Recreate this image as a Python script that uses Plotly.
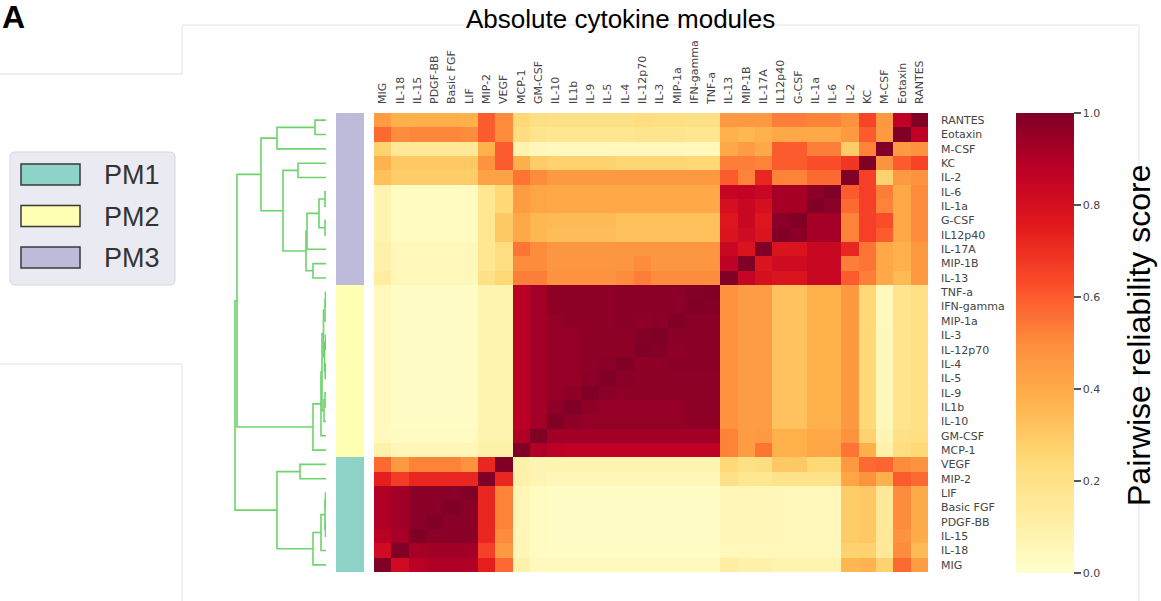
import plotly.graph_objects as go
import plotly.colors as pc

W, H = 1161, 601

# ---------------- data ----------------
cytokines = ["MIG", "IL-18", "IL-15", "PDGF-BB", "Basic FGF", "LIF", "MIP-2", "VEGF",
             "MCP-1", "GM-CSF", "IL-10", "IL1b", "IL-9", "IL-5", "IL-4", "IL-12p70",
             "IL-3", "MIP-1a", "IFN-gamma", "TNF-a", "IL-13", "MIP-1B", "IL-17A",
             "IL12p40", "G-CSF", "IL-1a", "IL-6", "IL-2", "KC", "M-CSF", "Eotaxin", "RANTES"]
row_labels = list(reversed(cytokines))

# reliability matrix: rows top->bottom (row_labels), columns left->right (cytokines)
scores = [
    [.45,.38,.39,.39,.39,.38,.60,.50, .25,.21,.20,.20,.20,.20,.20,.22,.21,.21,.20,.20, .46,.46,.46,.53,.53,.52,.52,.48,.65,.46,.87,1.0],  # RANTES
    [.57,.50,.51,.51,.51,.50,.60,.50, .22,.18,.17,.17,.17,.17,.17,.18,.18,.18,.17,.17, .38,.36,.38,.41,.41,.41,.41,.46,.60,.46,1.0,.87],  # Eotaxin
    [.27,.15,.15,.15,.15,.15,.38,.60, .08,.05,.04,.04,.04,.04,.05,.05,.05,.05,.05,.05, .41,.45,.41,.60,.60,.53,.53,.29,.52,1.0,.46,.48],  # M-CSF
    [.37,.30,.30,.30,.30,.30,.48,.60, .38,.29,.27,.27,.27,.27,.26,.26,.26,.26,.25,.25, .53,.53,.52,.60,.60,.63,.63,.68,1.0,.48,.60,.65],  # KC
    [.33,.29,.29,.29,.29,.29,.43,.43, .55,.50,.46,.46,.46,.46,.46,.46,.46,.46,.46,.46, .60,.52,.72,.52,.52,.57,.57,1.0,.66,.27,.46,.48],  # IL-2
    [.08,.03,.03,.03,.03,.03,.17,.25, .45,.42,.41,.41,.41,.41,.41,.41,.41,.41,.41,.41, .85,.86,.84,.92,.92,.98,1.0,.60,.66,.53,.41,.50],  # IL-6
    [.08,.03,.03,.03,.03,.03,.17,.25, .45,.42,.41,.41,.41,.41,.41,.41,.41,.41,.41,.41, .80,.84,.80,.92,.92,1.0,.98,.57,.66,.52,.41,.50],  # IL-1a
    [.08,.03,.03,.03,.03,.03,.17,.30, .41,.36,.35,.35,.35,.35,.33,.33,.33,.33,.33,.33, .77,.84,.77,.98,1.0,.92,.92,.52,.66,.63,.41,.50],  # G-CSF
    [.08,.03,.03,.03,.03,.03,.17,.30, .41,.36,.34,.34,.34,.34,.33,.33,.33,.33,.33,.33, .78,.82,.78,1.0,.98,.92,.92,.52,.66,.60,.41,.50],  # IL12p40
    [.10,.05,.05,.05,.05,.05,.17,.22, .55,.50,.47,.47,.47,.47,.47,.47,.47,.47,.47,.47, .84,.78,1.0,.78,.78,.84,.84,.72,.55,.41,.38,.46],  # IL-17A
    [.10,.05,.05,.05,.05,.05,.17,.22, .50,.50,.47,.47,.47,.47,.47,.50,.47,.47,.47,.47, .87,1.0,.78,.82,.82,.84,.84,.53,.55,.41,.38,.46],  # MIP-1B
    [.12,.05,.05,.05,.05,.05,.20,.25, .53,.53,.48,.48,.48,.48,.50,.53,.50,.50,.50,.50, 1.0,.85,.80,.78,.78,.84,.84,.60,.53,.41,.35,.46],  # IL-13
    [.04,.02,.02,.02,.02,.02,.08,.08, .88,.93,.97,.97,.97,.97,.98,.98,.98,.98,.99,1.0, .48,.45,.45,.32,.32,.38,.38,.46,.25,.04,.18,.20],  # TNF-a
    [.04,.02,.02,.02,.02,.02,.08,.08, .88,.93,.97,.97,.97,.97,.98,.98,.98,.98,1.0,.99, .48,.45,.45,.32,.32,.38,.38,.46,.25,.04,.18,.20],  # IFN-gamma
    [.04,.02,.02,.02,.02,.02,.08,.08, .88,.93,.96,.97,.97,.97,.98,.97,.98,1.0,.98,.98, .48,.45,.45,.32,.32,.38,.38,.46,.25,.04,.18,.20],  # MIP-1a
    [.04,.02,.02,.02,.02,.02,.08,.08, .88,.93,.96,.96,.97,.97,.97,.99,1.0,.98,.98,.98, .48,.45,.45,.32,.32,.38,.38,.46,.25,.05,.18,.20],  # IL-3
    [.04,.02,.02,.02,.02,.02,.08,.08, .88,.93,.96,.96,.97,.97,.97,1.0,.99,.97,.98,.98, .48,.45,.45,.32,.32,.38,.38,.46,.25,.05,.18,.20],  # IL-12p70
    [.04,.02,.02,.02,.02,.02,.08,.08, .88,.93,.96,.96,.97,.98,1.0,.97,.97,.98,.98,.98, .48,.45,.45,.32,.32,.38,.38,.46,.25,.05,.18,.20],  # IL-4
    [.04,.02,.02,.02,.02,.02,.08,.08, .88,.93,.96,.96,.98,1.0,.98,.97,.97,.97,.97,.97, .48,.45,.45,.32,.32,.38,.38,.46,.25,.05,.18,.20],  # IL-5
    [.04,.02,.02,.02,.02,.02,.08,.08, .88,.93,.96,.97,1.0,.98,.97,.97,.97,.97,.97,.97, .48,.45,.45,.32,.32,.38,.38,.46,.25,.05,.18,.20],  # IL-9
    [.04,.02,.02,.02,.02,.02,.08,.08, .88,.93,.97,1.0,.97,.96,.96,.96,.96,.96,.97,.97, .48,.45,.45,.32,.32,.38,.38,.46,.25,.05,.18,.20],  # IL1b
    [.04,.02,.02,.02,.02,.02,.08,.08, .88,.93,1.0,.97,.96,.96,.96,.96,.96,.96,.97,.97, .48,.45,.45,.32,.32,.38,.38,.46,.25,.05,.18,.20],  # IL-10
    [.04,.03,.03,.03,.03,.03,.08,.08, .90,1.0,.93,.93,.93,.93,.93,.93,.93,.93,.93,.93, .52,.45,.46,.38,.38,.41,.41,.48,.27,.07,.20,.22],  # GM-CSF
    [.10,.06,.06,.06,.06,.06,.10,.10, 1.0,.90,.88,.87,.87,.87,.87,.87,.87,.87,.87,.87, .52,.45,.55,.38,.38,.42,.42,.55,.38,.10,.22,.25],  # MCP-1
    [.57,.46,.52,.52,.52,.48,.72,1.0, .10,.07,.07,.07,.07,.07,.07,.07,.07,.07,.07,.07, .25,.20,.22,.30,.30,.25,.25,.46,.57,.58,.50,.48],  # VEGF
    [.74,.67,.72,.72,.72,.72,1.0,.72, .10,.07,.06,.06,.06,.06,.06,.06,.06,.06,.06,.06, .20,.17,.17,.19,.19,.19,.19,.42,.48,.38,.60,.57],  # MIP-2
    [.90,.93,.98,.98,.98,1.0,.72,.52, .06,.03,.02,.02,.02,.02,.02,.02,.02,.02,.02,.02, .06,.06,.06,.05,.05,.05,.05,.29,.30,.15,.50,.40],  # LIF
    [.90,.93,.98,.98,1.0,.98,.72,.52, .06,.03,.02,.02,.02,.02,.02,.02,.02,.02,.02,.02, .06,.06,.06,.05,.05,.05,.05,.29,.30,.15,.50,.40],  # Basic FGF
    [.90,.93,.98,1.0,.98,.98,.72,.52, .06,.03,.02,.02,.02,.02,.02,.02,.02,.02,.02,.02, .06,.06,.06,.05,.05,.05,.05,.29,.30,.15,.50,.40],  # PDGF-BB
    [.88,.92,1.0,.98,.98,.98,.72,.50, .06,.03,.02,.02,.02,.02,.02,.02,.02,.02,.02,.02, .06,.06,.06,.05,.05,.05,.05,.29,.30,.15,.48,.40],  # IL-15
    [.82,1.0,.92,.93,.93,.93,.66,.46, .06,.03,.02,.02,.02,.02,.02,.02,.02,.02,.02,.02, .05,.05,.05,.05,.05,.05,.05,.27,.27,.15,.50,.35],  # IL-18
    [1.0,.82,.88,.90,.90,.90,.74,.57, .10,.04,.04,.04,.04,.04,.04,.04,.04,.04,.04,.04, .12,.10,.10,.08,.08,.08,.08,.36,.37,.27,.57,.45],  # MIG
]

# module membership of each row (top -> bottom)
module_names = ["PM1", "PM2", "PM3"]
module_colors = ["#8dd3c7", "#ffffb3", "#bebada"]
row_module = ["PM3"] * 12 + ["PM2"] * 12 + ["PM1"] * 8

# hierarchical clustering linkage: (child a, child b, merge distance); node k is named "n<k>"
links = [
    ("RANTES", "Eotaxin", 1.1),      # n0
    ("n0", "M-CSF", 4.9),            # n1
    ("KC", "IL-2", 2.8),             # n2
    ("IL-6", "IL-1a", 0.1),          # n3
    ("G-CSF", "IL12p40", 0.1),       # n4
    ("n3", "n4", 0.7),               # n5
    ("n5", "IL-17A", 1.9),           # n6
    ("MIP-1B", "IL-13", 1.3),        # n7
    ("n6", "n7", 2.0),               # n8
    ("n2", "n8", 4.3),               # n9
    ("n1", "n9", 6.5),               # n10
    ("TNF-a", "IFN-gamma", 0.05),    # n11
    ("n11", "MIP-1a", 0.1),          # n12
    ("IL-3", "IL-12p70", 0.05),      # n13
    ("IL-4", "IL-5", 0.08),          # n14
    ("n13", "n14", 0.15),            # n15
    ("IL-9", "IL1b", 0.1),           # n16
    ("n16", "IL-10", 0.2),           # n17
    ("n12", "n15", 0.25),            # n18
    ("n18", "n17", 0.4),             # n19
    ("n19", "GM-CSF", 0.5),          # n20
    ("n20", "MCP-1", 1.3),           # n21
    ("VEGF", "MIP-2", 2.6),          # n22
    ("LIF", "Basic FGF", 0.05),      # n23
    ("PDGF-BB", "IL-15", 0.05),      # n24
    ("n23", "n24", 0.1),             # n25
    ("n25", "IL-18", 0.5),           # n26
    ("n26", "MIG", 1.3),             # n27
    ("n22", "n27", 4.9),             # n28
    ("n10", "n21", 8.9),             # n29
    ("n29", "n28", 9.1),             # n30
]

cbar_ticks = [0.0, 0.2, 0.4, 0.6, 0.8, 1.0]

# ---------------- geometry helpers ----------------
def px(x):
    return x / W

def py(y):
    return 1 - y / H

HM_X0, HM_X1, HM_Y0, HM_Y1 = 374, 928, 113, 572

n = len(cytokines)
idx = list(range(n))

fig = go.Figure()

# heatmap
ylorrd = pc.sequential.YlOrRd
cscale = [[i / (len(ylorrd) - 1), c] for i, c in enumerate(ylorrd)]
fig.add_trace(go.Heatmap(
    z=scores, x=idx, y=idx, colorscale=cscale, zmin=0, zmax=1,
    xaxis="x", yaxis="y", hoverinfo="skip",
    colorbar=dict(
        x=px(1016), xanchor="left", y=py(113), yanchor="top",
        len=(573 - 113) / H, lenmode="fraction",
        thickness=58, thicknessmode="pixels", xpad=0, ypad=0,
        outlinewidth=0, ticks="outside", ticklen=7, tickwidth=1.5, tickcolor="#555",
        tickvals=cbar_ticks, tickformat=".1f",
        tickfont=dict(family="DejaVu Sans", size=11, color="#444"),
    ),
))

# module colour strip
mod_index = [module_names.index(m) for m in row_module]
fig.add_trace(go.Heatmap(
    z=[[v] for v in mod_index], x=[0], y=idx,
    colorscale=[[0, module_colors[0]], [0.5, module_colors[1]], [1, module_colors[2]]],
    zmin=0, zmax=2, showscale=False, xaxis="x3", yaxis="y", hoverinfo="skip",
))

# dendrogram (computed from linkage)
pos = {name: i for i, name in enumerate(row_labels)}
hgt = {}
dx, dy = [], []
for k, (a, b, h) in enumerate(links):
    ya, yb = pos[a], pos[b]
    ha, hb = hgt.get(a, 0.0), hgt.get(b, 0.0)
    dx += [ha, h, h, hb, None]
    dy += [ya, ya, yb, yb, None]
    pos[f"n{k}"] = (ya + yb) / 2
    hgt[f"n{k}"] = h
fig.add_trace(go.Scatter(
    x=dx, y=dy, mode="lines", line=dict(color="#6dd36d", width=1.6),
    xaxis="x2", yaxis="y", hoverinfo="skip", showlegend=False,
))

tickfont = dict(family="DejaVu Sans", size=11, color="#444")
fig.update_layout(
    width=W, height=H, autosize=False,
    margin=dict(l=0, r=0, t=0, b=0),
    paper_bgcolor="white", plot_bgcolor="white",
    showlegend=False,
    xaxis=dict(domain=[px(HM_X0), px(HM_X1)], range=[-0.5, n - 0.5], side="top",
               tickmode="array", tickvals=idx, ticktext=cytokines, tickangle=-90,
               ticks="", ticklabelstandoff=8, tickfont=tickfont,
               showgrid=False, zeroline=False, anchor="y"),
    yaxis=dict(domain=[py(HM_Y1), py(HM_Y0)], range=[n - 0.5, -0.5], side="right",
               tickmode="array", tickvals=idx, ticktext=row_labels,
               ticks="", ticklabelstandoff=12, tickfont=tickfont,
               showgrid=False, zeroline=False, anchor="x"),
    xaxis2=dict(domain=[px(230), px(326)], range=[9.6, 0], visible=False, anchor="y"),
    xaxis3=dict(domain=[px(336), px(364)], range=[-0.5, 0.5], visible=False, anchor="y"),
)

# faint panel lines
line_col = "#e3e3e3"
for (x0, y0, x1, y1) in [(182, 25, 1139, 25), (1139, 25, 1139, 601), (182, 25, 182, 74),
                         (0, 74, 182, 74), (0, 364, 182, 364), (182, 364, 182, 601)]:
    fig.add_shape(type="line", xref="paper", yref="paper",
                  x0=px(x0), y0=py(y0), x1=px(x1), y1=py(y1),
                  line=dict(color=line_col, width=1))

# legend box (rounded)
lx0, ly0, lx1, ly1, r = 10, 152, 175, 285, 5
path = (f"M {px(lx0 + r)},{py(ly0)} L {px(lx1 - r)},{py(ly0)} "
        f"Q {px(lx1)},{py(ly0)} {px(lx1)},{py(ly0 + r)} L {px(lx1)},{py(ly1 - r)} "
        f"Q {px(lx1)},{py(ly1)} {px(lx1 - r)},{py(ly1)} L {px(lx0 + r)},{py(ly1)} "
        f"Q {px(lx0)},{py(ly1)} {px(lx0)},{py(ly1 - r)} L {px(lx0)},{py(ly0 + r)} "
        f"Q {px(lx0)},{py(ly0)} {px(lx0 + r)},{py(ly0)} Z")
fig.add_shape(type="path", path=path, xref="paper", yref="paper",
              fillcolor="#eaeaf2", line=dict(color="#d6d6de", width=1))
for i, (name, col) in enumerate(zip(module_names, module_colors)):
    top = 164 + i * 41.5
    fig.add_shape(type="rect", xref="paper", yref="paper",
                  x0=px(21), x1=px(80), y0=py(top), y1=py(top + 21),
                  fillcolor=col, line=dict(color="#3a3a3a", width=1.5))
    fig.add_annotation(text=name, xref="paper", yref="paper", x=px(102), y=py(top + 11),
                       xanchor="left", yanchor="middle", showarrow=False,
                       font=dict(family="Liberation Sans", size=27, color="#333"))

# titles
fig.add_annotation(text="Absolute cytokine modules", xref="paper", yref="paper",
                   x=px(621), y=py(19), xanchor="center", yanchor="middle", showarrow=False,
                   font=dict(family="Liberation Sans", size=26, color="black"))
fig.add_annotation(text="Pairwise reliability score", xref="paper", yref="paper",
                   x=px(1139), y=py(336), xanchor="center", yanchor="middle", showarrow=False,
                   textangle=-90, font=dict(family="Liberation Sans", size=32, color="black"))
fig.add_annotation(text="<b>A</b>", xref="paper", yref="paper",
                   x=0, y=py(17), xanchor="left", yanchor="middle", showarrow=False,
                   font=dict(family="Liberation Sans", size=32, color="black"))

fig.write_html("out.html", config={"displayModeBar": False},
               post_script="document.body.style.margin='0';document.body.style.overflow='hidden';")
